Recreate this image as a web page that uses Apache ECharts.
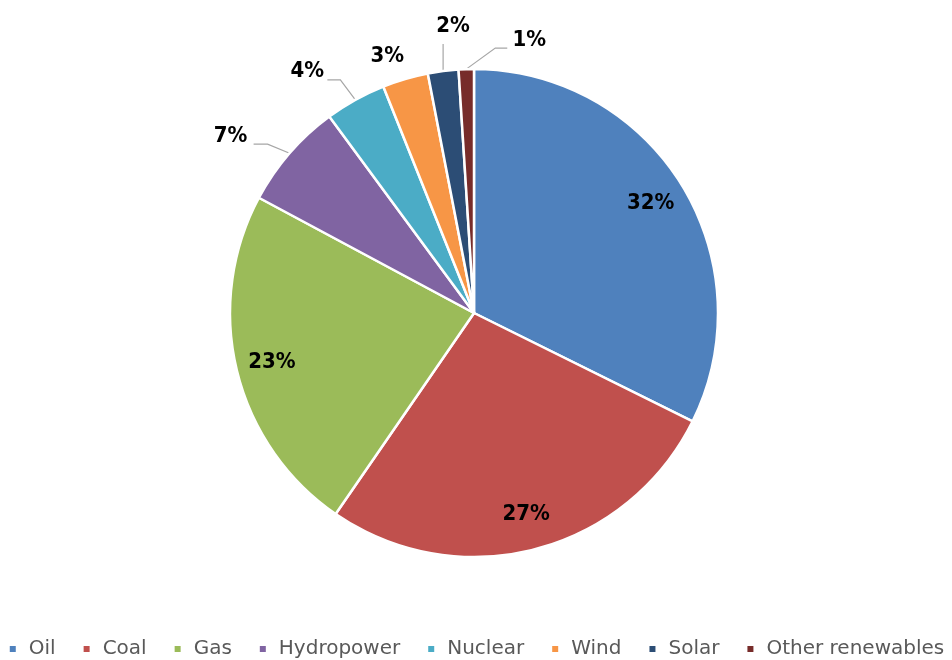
<!DOCTYPE html>
<html>
<head>
<meta charset="utf-8">
<script src="https://cdn.jsdelivr.net/npm/echarts@6/dist/echarts.min.js"></script>
<style>
  html, body { margin: 0; padding: 0; background: #fff; }
  #chart { width: 952px; height: 660px; }
</style>
</head>
<body>
<div id="chart"></div>
<script>
// Energy sources and their shares (%)
const categories = ['Oil', 'Coal', 'Gas', 'Hydropower', 'Nuclear', 'Wind', 'Solar', 'Other renewables'];
const shares = [32, 27, 23, 7, 4, 3, 2, 1];
const colors = ['#4F81BD', '#C0504D', '#9BBB59', '#8064A2', '#4BACC6', '#F79646', '#2C4D75', '#772C2A'];
// Slices large enough to carry their label inside
const insideThreshold = 10;

const center = [474, 313];
const radius = 244;

// Callout placement for the small slices, relative to the point where the
// leader line leaves the rim: elbow, line end, and label centre (px).
const callouts = {
  'Hydropower':       { elbow: [-22, -9],  end: [-36, -9],  label: [-59, -17] },
  'Nuclear':          { elbow: [-15, -20], end: [-28, -20], label: [-48, -28] },
  'Wind':             { elbow: null,       end: null,       label: [-18, -23] },
  'Solar':            { elbow: [0, -27],   end: [0, -27],   label: [10, -45] },
  'Other renewables': { elbow: [29, -21],  end: [41, -21],  label: [63, -29] }
};

const labelFont = {
  fontFamily: 'DejaVu Sans Condensed',
  fontWeight: 'bold',
  fontSize: 22,
  color: '#000'
};

// Rim point at the middle of each slice (start at 12 o'clock, clockwise)
const total = shares.reduce((a, b) => a + b, 0);
function rimPoint(i) {
  let before = 0;
  for (let k = 0; k < i; k++) before += shares[k];
  const mid = (before + shares[i] / 2) / total * Math.PI * 2;
  return [center[0] + radius * Math.sin(mid), center[1] - radius * Math.cos(mid)];
}

const mainData = categories.map((name, i) => ({
  name: name,
  value: shares[i],
  itemStyle: { color: colors[i] },
  label: { show: shares[i] < insideThreshold },
  labelLine: { show: shares[i] < insideThreshold }
}));

// Transparent ring that only carries the inner labels, nearer the rim
const labelData = categories.map((name, i) => ({
  name: name,
  value: shares[i],
  label: { show: shares[i] >= insideThreshold }
}));

const chart = echarts.init(document.getElementById('chart'), null, { renderer: 'canvas' });
chart.setOption({
  animation: false,
  backgroundColor: '#fff',
  color: colors,
  legend: {
    top: 634,
    left: 'center',
    icon: 'rect',
    itemWidth: 8,
    itemHeight: 8,
    itemGap: 26,
    textStyle: {
      fontFamily: 'DejaVu Sans',
      fontSize: 20,
      color: '#595959',
      padding: [0, 0, 0, 7]
    },
    data: categories
  },
  series: [
    {
      type: 'pie',
      center: center,
      radius: radius,
      startAngle: 90,
      clockwise: true,
      avoidLabelOverlap: false,
      minShowLabelAngle: 0,
      data: mainData,
      itemStyle: { borderColor: '#fff', borderWidth: 2.5 },
      label: {
        position: 'outside',
        formatter: p => p.value + '%',
        ...labelFont
      },
      labelLine: {
        length: 16,
        length2: 16,
        lineStyle: { color: '#A6A6A6', width: 1.2 }
      },
      labelLayout: function (params) {
        const i = params.dataIndex;
        const c = callouts[categories[i]];
        if (!c) return {};
        const rim = rimPoint(i);
        const out = {
          x: rim[0] + c.label[0],
          y: rim[1] + c.label[1],
          align: 'center',
          verticalAlign: 'middle'
        };
        if (c.elbow) {
          out.labelLinePoints = [
            rim,
            [rim[0] + c.elbow[0], rim[1] + c.elbow[1]],
            [rim[0] + c.end[0], rim[1] + c.end[1]]
          ];
        } else {
          out.labelLinePoints = [rim, rim, rim];
        }
        return out;
      },
      emphasis: { disabled: true }
    },
    {
      type: 'pie',
      center: center,
      radius: [radius * 0.68, radius],
      startAngle: 90,
      clockwise: true,
      silent: true,
      legendHoverLink: false,
      data: labelData,
      itemStyle: { color: 'rgba(0,0,0,0)' },
      label: {
        position: 'inside',
        formatter: p => p.value + '%',
        ...labelFont
      },
      labelLine: { show: false },
      emphasis: { disabled: true }
    }
  ]
});
</script>
</body>
</html>
